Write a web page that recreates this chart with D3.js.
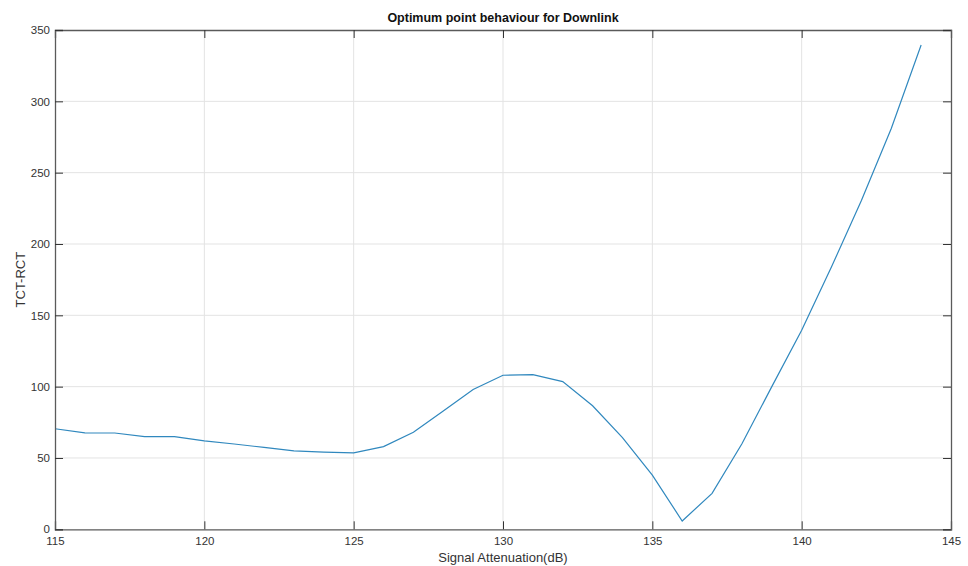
<!DOCTYPE html>
<html>
<head>
<meta charset="utf-8">
<script src="https://cdn.jsdelivr.net/npm/d3@7/dist/d3.min.js"></script>
<style>
  html, body { margin: 0; padding: 0; background: #fff; }
  svg { display: block; font-family: "Liberation Sans", Arial, Helvetica, sans-serif; }
</style>
</head>
<body>
<svg id="chart" width="968" height="566"></svg>
<script>
const attenuation = [115,116,117,118,119,120,121,122,123,124,125,126,127,128,129,130,131,132,133,134,135,136,137,138,139,140,141,142,143,144];
const tctRct = [70.5,67.6,67.5,65,65,62,59.8,57.4,55,54.1,53.6,58,68,83,98,108,108.4,103.5,86.6,64.3,38,5.8,25.2,60,100,139.5,184,230.5,281,339.5];
const xTicks = [115,120,125,130,135,140,145];
const yTicks = [0,50,100,150,200,250,300,350];
const titleText = "Optimum point behaviour for Downlink";
const xLabel = "Signal Attenuation(dB)";
const yLabel = "TCT-RCT";

const svg = d3.select("#chart");
const m = {left: 55, top: 30, right: 951, bottom: 529.3};
const x = d3.scaleLinear().domain([115,145]).range([m.left, m.right]);
const y = d3.scaleLinear().domain([0,350]).range([m.bottom, m.top]);

const gridColor = "#e3e3e3";
const axisColor = "#5a5a5a";
const textColor = "#333";

// grid
svg.append("g").selectAll("line.gx").data(xTicks.slice(1,-1)).join("line")
  .attr("x1", d => x(d)).attr("x2", d => x(d))
  .attr("y1", m.top).attr("y2", m.bottom)
  .attr("stroke", gridColor).attr("stroke-width", 1);
svg.append("g").selectAll("line.gy").data(yTicks.slice(1,-1)).join("line")
  .attr("y1", d => y(d)).attr("y2", d => y(d))
  .attr("x1", m.left).attr("x2", m.right)
  .attr("stroke", gridColor).attr("stroke-width", 1);

// line
svg.append("path")
  .datum(attenuation.map((a,i) => [a, tctRct[i]]))
  .attr("fill", "none")
  .attr("stroke", "#3088be")
  .attr("stroke-width", 1.2)
  .attr("d", d3.line().x(d => x(d[0])).y(d => y(d[1])));

// axes
const tickLen = 8;
const xAxisB = d3.axisBottom(x).tickValues(xTicks).tickSize(-tickLen).tickPadding(8).tickFormat(d3.format("d"));
const xAxisT = d3.axisTop(x).tickValues(xTicks).tickSize(-tickLen).tickFormat("");
const yAxisL = d3.axisLeft(y).tickValues(yTicks).tickSize(-tickLen).tickPadding(5).tickFormat(d3.format("d"));
const yAxisR = d3.axisRight(y).tickValues(yTicks).tickSize(-tickLen).tickFormat("");

function style(g) {
  g.select(".domain").attr("stroke", axisColor).attr("stroke-width", 1.3);
  g.selectAll(".tick line").attr("stroke", "#333").attr("stroke-width", 1);
  g.selectAll(".tick text").attr("fill", textColor).attr("font-size", 11.5)
    .attr("font-family", "'Liberation Sans', Arial, sans-serif");
}
svg.append("g").attr("transform", `translate(0,${m.bottom})`).call(xAxisB).call(style)
  .call(g => g.selectAll(".tick text").attr("dy", "0.71em"));
svg.append("g").attr("transform", `translate(0,${m.top})`).call(xAxisT).call(style);
svg.append("g").attr("transform", `translate(${m.left},0)`).call(yAxisL).call(style);
svg.append("g").attr("transform", `translate(${m.right},0)`).call(yAxisR).call(style);

// title & labels
svg.append("text").attr("x", (m.left + m.right) / 2).attr("y", 22)
  .attr("text-anchor", "middle").attr("font-weight", "bold").attr("font-size", 12.5)
  .attr("fill", "#111").text(titleText);
svg.append("text").attr("x", (m.left + m.right) / 2).attr("y", 562)
  .attr("text-anchor", "middle").attr("font-size", 13).attr("fill", textColor).text(xLabel);
svg.append("text").attr("transform", `translate(25,${(m.top + m.bottom) / 2}) rotate(-90)`)
  .attr("text-anchor", "middle").attr("font-size", 13).attr("fill", textColor).text(yLabel);
</script>
</body>
</html>
